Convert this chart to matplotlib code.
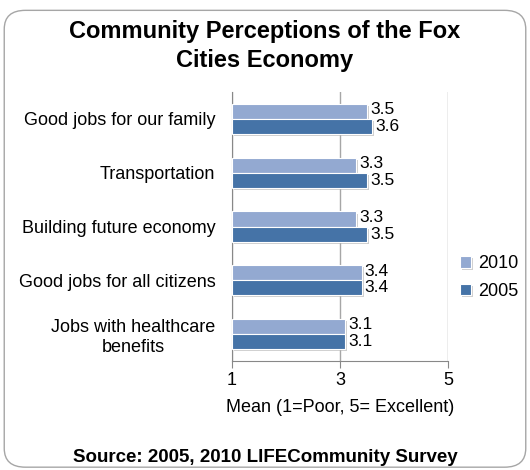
import numpy as np
import matplotlib
matplotlib.use('Agg')
import matplotlib.pyplot as plt
from matplotlib.patches import FancyBboxPatch
import matplotlib.patheffects as pe

plt.rcParams['font.family'] = ['Liberation Sans', 'DejaVu Sans']

# Data (top to bottom as shown in the chart)
categories = ['Good jobs for our family', 'Transportation', 'Building future economy',
              'Good jobs for all citizens', 'Jobs with healthcare\nbenefits']
values_2010 = [3.5, 3.3, 3.3, 3.4, 3.1]
values_2005 = [3.6, 3.5, 3.5, 3.4, 3.1]
labels_2010 = ['3.5', '3.3', '3.3', '3.4', '3.1']
labels_2005 = ['3.6', '3.5', '3.5', '3.4', '3.1']
xticks = [1, 3, 5]

c2010 = '#93a9d1'
c2005 = '#4573a7'

fig = plt.figure(figsize=(5.3, 4.7), dpi=100)

# Rounded outer frame
frame = FancyBboxPatch((0.008, 0.006), 0.984, 0.972, boxstyle='round,pad=0,rounding_size=0.04',
                       transform=fig.transFigure, facecolor='white', edgecolor='#a6a6a6',
                       linewidth=1.0, zorder=-1)
fig.patches.append(frame)

ax = fig.add_axes([232 / 530, 1 - 361 / 470, (448 - 232) / 530, (361 - 92) / 470])

n = len(categories)
y = np.arange(n)[::-1].astype(float)
h = 0.28
shadow = [pe.SimplePatchShadow(offset=(1.5, -1.5), shadow_rgbFace='#b0b0b0', alpha=0.6), pe.Normal()]

bars10 = ax.barh(y + h / 2, [v - 1 for v in values_2010], left=1, height=h, color=c2010,
                 edgecolor='white', linewidth=0.8, label='2010', zorder=3)
bars05 = ax.barh(y - h / 2, [v - 1 for v in values_2005], left=1, height=h, color=c2005,
                 edgecolor='white', linewidth=0.8, label='2005', zorder=3)
for b in list(bars10) + list(bars05):
    b.set_path_effects(shadow)

fs = 13
for yi, v, t in zip(y, values_2010, labels_2010):
    ax.text(v + 0.06, yi + h / 2 + 0.03, t, va='center', ha='left', fontsize=12.5)
for yi, v, t in zip(y, values_2005, labels_2005):
    ax.text(v + 0.06, yi - h / 2 + 0.0, t, va='center', ha='left', fontsize=12.5)

ax.set_xlim(1, 5)
ax.set_ylim(-0.5, n - 0.5)
ax.set_xticks(xticks)
ax.set_xticklabels([str(t) for t in xticks], fontsize=fs)
ax.set_yticks(y)
ax.set_yticklabels(categories, fontsize=fs)
ax.tick_params(axis='y', length=0, pad=12)
ax.tick_params(axis='x', length=5, color='#888888', pad=3)
for lbl in ax.get_yticklabels():
    lbl.set_multialignment('center')
ax.set_xlabel('Mean (1=Poor, 5= Excellent)', fontsize=fs, labelpad=7)

ax.grid(axis='x', color='#a6a6a6', linewidth=1.0, zorder=0)
ax.set_axisbelow(True)
for s in ['top', 'right']:
    ax.spines[s].set_visible(False)
ax.spines['left'].set_color('#888888')
ax.spines['bottom'].set_color('#888888')

ax.legend(loc='center left', bbox_to_anchor=(0.98, 0.31), frameon=False, fontsize=fs,
          handlelength=0.6, handleheight=0.6, handletextpad=0.4, labelspacing=0.6)

fig.text(0.5, 1 - 46 / 470, 'Community Perceptions of the Fox\nCities Economy', ha='center',
         va='center', fontsize=17, fontweight='bold', linespacing=1.3)
fig.text(0.5, 1 - 458 / 470, 'Source: 2005, 2010 LIFECommunity Survey', ha='center', va='center',
         fontsize=13.5, fontweight='bold')

fig.savefig('out.png', dpi=100)
